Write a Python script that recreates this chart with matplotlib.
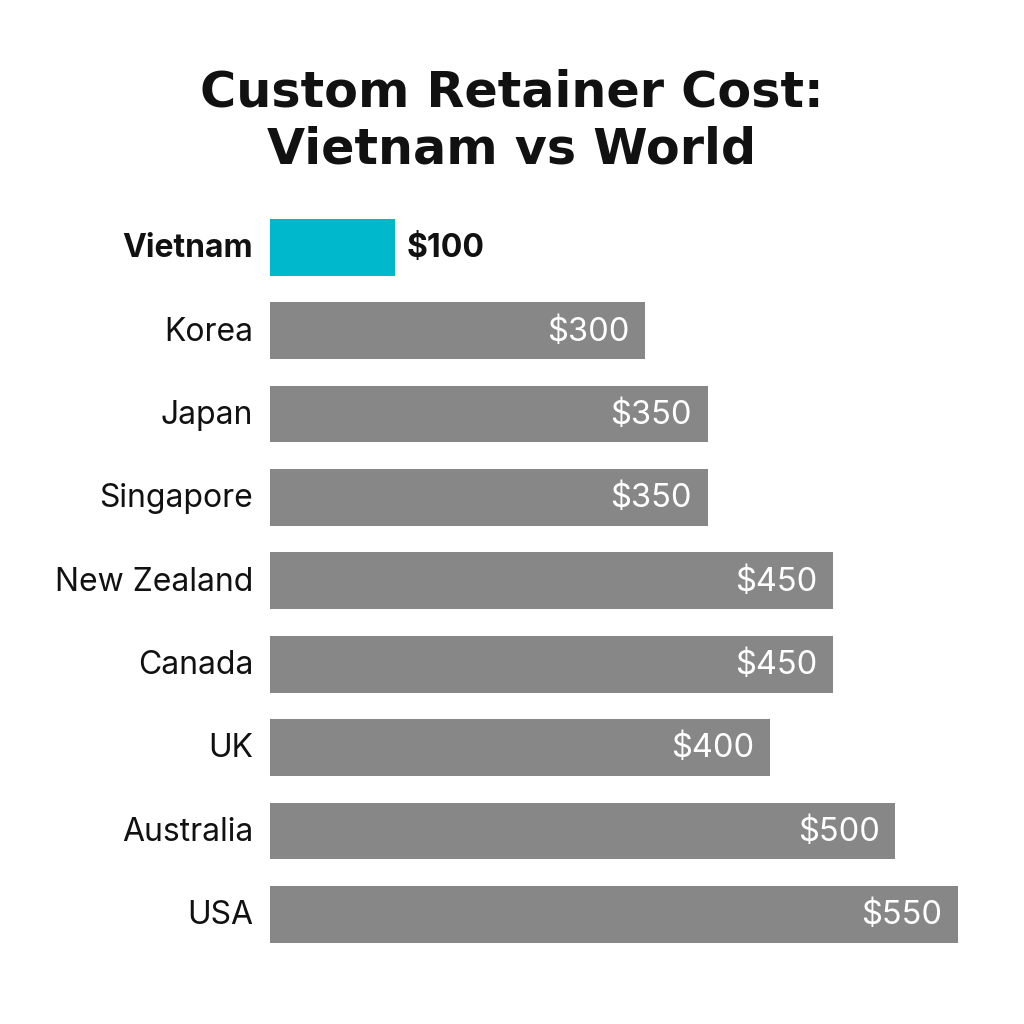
import matplotlib
matplotlib.use("Agg")
import matplotlib.pyplot as plt

countries = ["Vietnam", "Korea", "Japan", "Singapore", "New Zealand", "Canada", "UK", "Australia", "USA"]
costs = [100, 300, 350, 350, 450, 450, 400, 500, 550]
labels = ["$100", "$300", "$350", "$350", "$450", "$450", "$400", "$500", "$550"]
title = "Custom Retainer Cost:\nVietnam vs World"

plt.rcParams['font.family'] = ['Inter', 'DejaVu Sans']

fig = plt.figure(figsize=(10.24, 10.24), dpi=100)
ax = fig.add_axes([270/1024, 1 - 956/1024, 688/1024, (956 - 205.6)/1024])

colors = ["#00B8CC" if c == "Vietnam" else "#878787" for c in countries]
ypos = list(range(len(countries)))
ax.barh(ypos, costs, height=0.68, color=colors)
ax.set_xlim(0, 550)
ax.set_ylim(len(countries) - 0.5, -0.5)

for i, (c, v, lab) in enumerate(zip(countries, costs, labels)):
    if c == "Vietnam":
        ax.annotate(lab, (v, i), xytext=(8.5, -1), textcoords="offset points",
                    ha="left", va="center", fontsize=23, fontweight="bold", color="#111111")
    else:
        ax.annotate(lab, (v, i), xytext=(-11.5, -1), textcoords="offset points",
                    ha="right", va="center", fontsize=23.5, color="white")
    ax.annotate(c, (0, i), xytext=(-12, -1), textcoords="offset points",
                ha="right", va="center", fontsize=23,
                fontweight="bold" if c == "Vietnam" else "normal", color="#111111")

ax.set_xticks([])
ax.set_yticks([])
for s in ax.spines.values():
    s.set_visible(False)

fig.text(0.5, 1 - 121/1024, title, ha="center", va="center", fontsize=35.5,
         fontweight="bold", color="#111111", linespacing=1.26,
         family=["DejaVu Sans"])

fig.savefig("out.png", dpi=100, facecolor="white")
